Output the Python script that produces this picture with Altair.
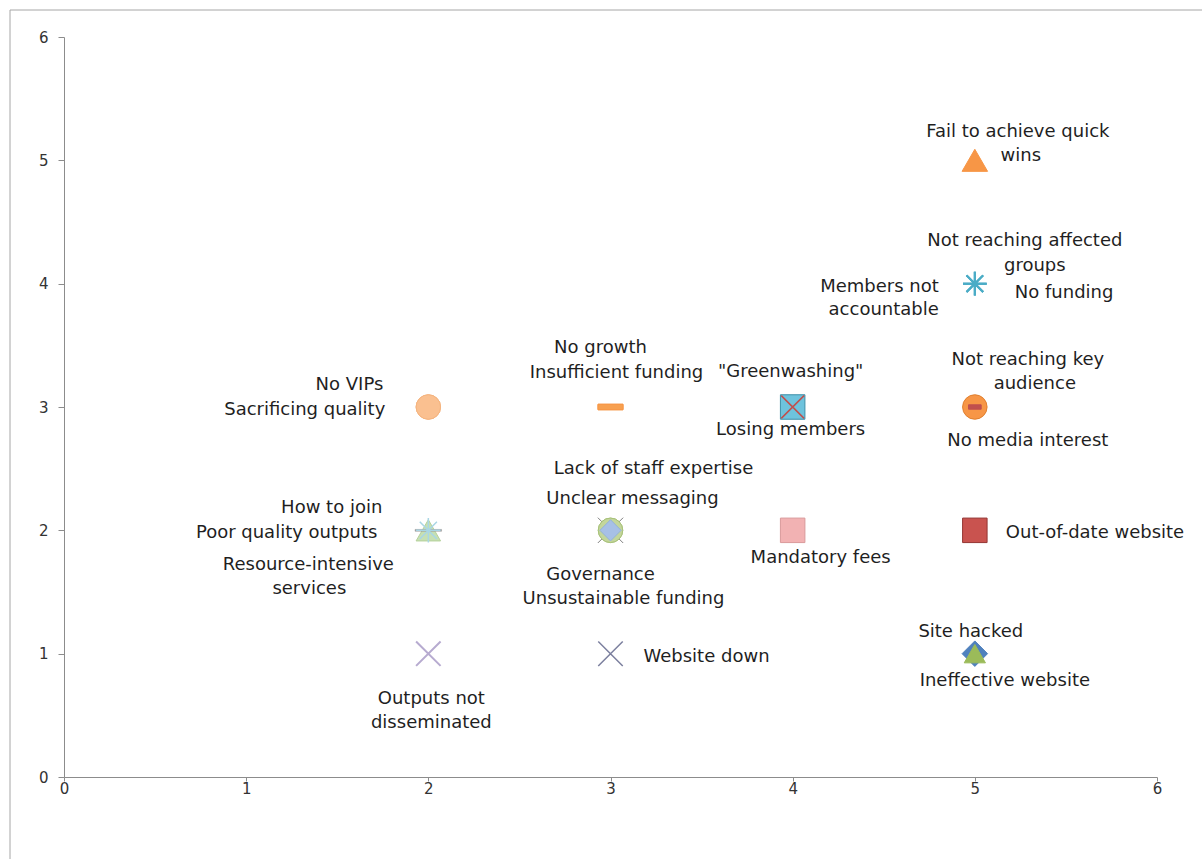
import altair as alt
import pandas as pd

# ---- data ----
risks = [
    "Fail to achieve quick wins",
    "Members not accountable", "No funding", "Not reaching affected groups",
    "Sacrificing quality", "No VIPs",
    "Insufficient funding", "No growth",
    "\"Greenwashing\"", "Losing members",
    "Not reaching key audience", "No media interest",
    "Poor quality outputs", "Resource-intensive services", "How to join",
    "Governance", "Lack of staff expertise", "Unclear messaging", "Unsustainable funding",
    "Mandatory fees",
    "Out-of-date website",
    "Outputs not disseminated",
    "Website down",
    "Site hacked", "Ineffective website",
]
x_vals = [5, 5, 5, 5, 2, 2, 3, 3, 4, 4, 5, 5, 2, 2, 2, 3, 3, 3, 3, 4, 5, 2, 3, 5, 5]
y_vals = [5, 4, 4, 4, 3, 3, 3, 3, 3, 3, 3, 3, 2, 2, 2, 2, 2, 2, 2, 2, 2, 1, 1, 1, 1]

# ---- marker styles (shape, fill, stroke, size, strokeWidth) ----
ASTER = "M-1,0L1,0M0,-1L0,1M-0.7,-0.7L0.7,0.7M-0.7,0.7L0.7,-0.7"
XMARK = "M-1,-1L1,1M-1,1L1,-1"
DASH = "M-1,-0.22L1,-0.22L1,0.22L-1,0.22Z"
DASH2 = "M-1,-0.35L1,-0.35L1,0.35L-1,0.35Z"
THIN = "M-1,-0.07L1,-0.07L1,0.07L-1,0.07Z"
T = "transparent"
styles = {
    "Fail to achieve quick wins": ("triangle-up", "#F79646", "#F79646", 650, 1),
    "Members not accountable": (ASTER, T, "#4BACC6", 560, 2),
    "No funding": (ASTER, T, "#4BACC6", 560, 2),
    "Not reaching affected groups": (ASTER, T, "#4BACC6", 560, 2),
    "Sacrificing quality": ("circle", "#FAC090", "#F5B47F", 600, 1),
    "No VIPs": ("circle", "#FAC090", "#F5B47F", 600, 1),
    "Insufficient funding": (DASH, "#F79646", "#F79646", 625, 1),
    "No growth": (DASH, "#F7A050", "#F79646", 625, 1),
    "\"Greenwashing\"": ("square", "#6EC3DD", "#3E8FA8", 600, 1),
    "Losing members": (XMARK, T, "#C0504D", 520, 1.5),
    "Not reaching key audience": ("circle", "#F79646", "#E07F2E", 600, 1),
    "No media interest": (DASH2, "#C0504D", "#C0504D", 160, 1),
    "Poor quality outputs": ("triangle-up", "#C6E0B4", "#B5D19A", 600, 1),
    "Resource-intensive services": (THIN, "#9A9A9A", "#9A9A9A", 700, 0.5),
    "How to join": (ASTER, T, "#A9D6E5", 600, 1.5),
    "Governance": (XMARK, T, "#7F7F7F", 640, 1),
    "Lack of staff expertise": ("circle", "#C3D69B", "#A9C27A", 600, 1),
    "Unclear messaging": ("circle", "#C3D69B", "#A9C27A", 600, 1),
    "Unsustainable funding": ("diamond", "#A7C0E6", "#95B3D7", 450, 1),
    "Mandatory fees": ("square", "#F2B2B3", "#D99A9B", 600, 1),
    "Out-of-date website": ("square", "#C9534F", "#943634", 600, 1),
    "Outputs not disseminated": (XMARK, T, "#B7ABD0", 600, 2),
    "Website down": (XMARK, T, "#7B7F9E", 600, 1.5),
    "Site hacked": ("diamond", "#4F81BD", "#4F81BD", 650, 1),
    "Ineffective website": ("triangle-up", "#9BBB59", "#9BBB59", 450, 1),
}

# ---- label layout: risk -> list of (line text, align, dx, dy) ----
labels = {
    "Fail to achieve quick wins": [("Fail to achieve quick", "center", 43, -28), ("wins", "center", 46, -4)],
    "Not reaching affected groups": [("Not reaching affected", "center", 50, -43), ("groups", "center", 60, -18)],
    "Members not accountable": [("Members not", "right", -36, 3), ("accountable", "right", -36, 26)],
    "No funding": [("No funding", "left", 40, 9)],
    "No VIPs": [("No VIPs", "right", -45, -22)],
    "Sacrificing quality": [("Sacrificing quality", "right", -43, 3)],
    "No growth": [("No growth", "center", -10, -59)],
    "Insufficient funding": [("Insufficient funding", "center", 6, -34)],
    "\"Greenwashing\"": [("\"Greenwashing\"", "center", -2, -35)],
    "Losing members": [("Losing members", "center", -2, 23)],
    "Not reaching key audience": [("Not reaching key", "center", 53, -47), ("audience", "center", 60, -23)],
    "No media interest": [("No media interest", "center", 53, 34)],
    "How to join": [("How to join", "right", -46, -22)],
    "Poor quality outputs": [("Poor quality outputs", "right", -51, 3)],
    "Resource-intensive services": [("Resource-intensive", "center", -120, 35), ("services", "center", -119, 59)],
    "Lack of staff expertise": [("Lack of staff expertise", "center", 43, -61)],
    "Unclear messaging": [("Unclear messaging", "center", 22, -31)],
    "Governance": [("Governance", "center", -10, 45)],
    "Unsustainable funding": [("Unsustainable funding", "center", 13, 69)],
    "Mandatory fees": [("Mandatory fees", "center", 28, 28)],
    "Out-of-date website": [("Out-of-date website", "left", 31, 3)],
    "Outputs not disseminated": [("Outputs not", "center", 3, 45), ("disseminated", "center", 3, 69)],
    "Website down": [("Website down", "left", 33, 3)],
    "Site hacked": [("Site hacked", "center", -4, -22)],
    "Ineffective website": [("Ineffective website", "center", 30, 27)],
}

FONT = "DejaVu Sans"
TEXT_COLOR = "#1f1f1f"

df = pd.DataFrame({"risk": risks, "x": x_vals, "y": y_vals})
df["shape"] = [styles[r][0] for r in risks]
df["fill"] = [styles[r][1] for r in risks]
df["stroke"] = [styles[r][2] for r in risks]
df["size"] = [styles[r][3] for r in risks]
df["sw"] = [styles[r][4] for r in risks]

xs = alt.Scale(domain=[0, 6], nice=False, zero=True)
ys = alt.Scale(domain=[0, 6], nice=False, zero=True)
axis_common = dict(values=[0, 1, 2, 3, 4, 5, 6], format="d", grid=False,
                   domainColor="#8c8c8c", tickColor="#8c8c8c", labelColor="#333333",
                   labelFont=FONT, labelFontSize=15, labelFlush=False, title=None)

border = alt.Chart(pd.DataFrame({"a": [0]})).mark_rect(
    fill="transparent", stroke="#a6a6a6", strokeWidth=1
).encode(x=alt.value(-54), x2=alt.value(1160), y=alt.value(-27), y2=alt.value(840))

points = alt.Chart(df).mark_point(filled=True, opacity=1).encode(
    x=alt.X("x:Q", scale=xs, axis=alt.Axis(tickSize=4, labelPadding=0, **axis_common)),
    y=alt.Y("y:Q", scale=ys, axis=alt.Axis(tickSize=6, labelPadding=10, **axis_common)),
    shape=alt.Shape("shape:N", scale=None),
    fill=alt.Fill("fill:N", scale=None),
    stroke=alt.Stroke("stroke:N", scale=None),
    size=alt.Size("size:Q", scale=None),
    strokeWidth=alt.StrokeWidth("sw:Q", scale=None),
)

text_layers = []
for r, xv, yv in zip(risks, x_vals, y_vals):
    for line, align, dx, dy in labels[r]:
        t = alt.Chart(pd.DataFrame({"x": [xv], "y": [yv], "t": [line]})).mark_text(
            align=align, baseline="middle", dx=dx, dy=dy,
            font=FONT, fontSize=18, color=TEXT_COLOR
        ).encode(x=alt.X("x:Q", scale=xs), y=alt.Y("y:Q", scale=ys), text="t:N")
        text_layers.append(t)

chart = alt.layer(border, points, *text_layers).properties(
    width=1093, height=740,
    autosize=alt.AutoSizeParams(type="none"),
    padding={"left": 64, "top": 37, "right": 45, "bottom": 82},
    background="white",
).configure_view(stroke=None)

chart.save("out.html", embed_options={"renderer": "svg", "actions": False})
